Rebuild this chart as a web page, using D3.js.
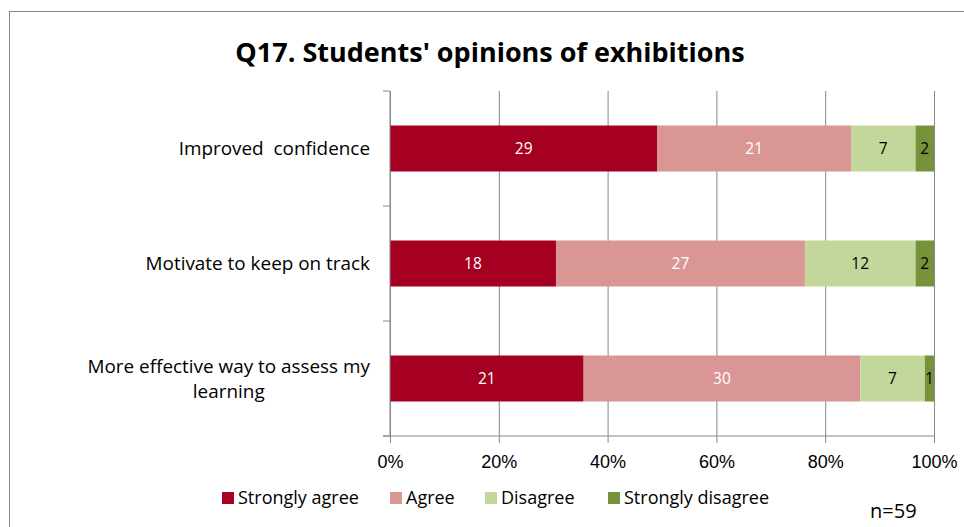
<!DOCTYPE html>
<html>
<head>
<meta charset="utf-8">
<script src="https://cdn.jsdelivr.net/npm/d3@7"></script>
<style>
  body { margin: 0; background: #fff; }
  svg { font-family: "Open Sans", sans-serif; }
</style>
</head>
<body>
<svg></svg>
<script>
// Data

let categories = ['Improved  confidence', 'Motivate to keep on track', 'More effective way to assess my learning']
let labelLines = [['Improved  confidence'], ['Motivate to keep on track'], ['More effective way to assess my', 'learning']]
let seriesNames = ['Strongly agree', 'Agree', 'Disagree', 'Strongly disagree']
let stronglyAgree = [29, 18, 21]
let agree = [21, 27, 30]
let disagree = [7, 12, 7]
let stronglyDisagree = [2, 2, 1]
let tickValues = [0, 0.2, 0.4, 0.6, 0.8, 1]
let colors = ['#a50021', '#da9694', '#c4d79b', '#76933c']
let labelColors = ['#fff', '#fff', '#000', '#000']

let width = 964
let height = 527

let plotLeft = 390
let plotRight = 934
let plotTop = 91
let plotBottom = 436

let svg = d3.select('svg')
svg.attr('width', width).attr('height', height)

// Build stacked rows

let rows = categories.map((c, i) => {
    let vals = [stronglyAgree[i], agree[i], disagree[i], stronglyDisagree[i]]
    let total = d3.sum(vals)
    let acc = 0
    return vals.map((v, j) => {
        let seg = { cat: c, idx: i, series: j, value: v, x0: acc / total, x1: (acc + v) / total }
        acc += v
        return seg
    })
})

// Scales

let xScale = d3.scaleLinear().domain([0, 1]).range([plotLeft, plotRight])
let yScale = d3.scaleBand().domain(categories).range([plotTop, plotBottom]).paddingInner(0.6).paddingOuter(0.3)

// Chart border

svg.append('rect')
    .attr('x', 9.5).attr('y', 11.5)
    .attr('width', 1000).attr('height', 600)
    .attr('fill', 'none').attr('stroke', '#868686').attr('stroke-width', 1)

// Title

svg.append('text')
    .attr('x', 490).attr('y', 62)
    .attr('text-anchor', 'middle')
    .style('font-size', '27px').style('font-weight', 'bold')
    .text("Q17. Students' opinions of exhibitions")

// Gridlines and x axis

let xAxis = d3.axisBottom(xScale)
    .tickValues(tickValues)
    .tickFormat(d3.format('.0%'))

let gx = svg.append('g')
    .attr('transform', 'translate(0,' + plotBottom + ')')
    .call(xAxis)
gx.select('.domain').remove()
gx.selectAll('.tick line').attr('stroke', '#888').attr('y1', -(plotBottom - plotTop)).attr('y2', 7)
gx.selectAll('.tick text')
    .attr('y', 19)
    .attr('dy', '0.71em')
    .style('font-size', '18px').attr('fill', '#000')

// Bars

svg.append('g').selectAll('g')
    .data(rows)
    .enter().append('g')
    .selectAll('rect')
    .data(d => d)
    .enter().append('rect')
    .attr('x', d => xScale(d.x0))
    .attr('width', d => xScale(d.x1) - xScale(d.x0))
    .attr('y', d => yScale(d.cat))
    .attr('height', yScale.bandwidth())
    .attr('fill', d => colors[d.series])

// Data labels

svg.append('g').selectAll('g')
    .data(rows)
    .enter().append('g')
    .selectAll('text')
    .data(d => d)
    .enter().append('text')
    .attr('x', d => (xScale(d.x0) + xScale(d.x1)) / 2)
    .attr('y', d => yScale(d.cat) + yScale.bandwidth() / 2)
    .attr('dy', '0.35em')
    .attr('text-anchor', 'middle')
    .style('font-size', '15.5px')
    .attr('fill', d => labelColors[d.series])
    .text(d => d.value)

// Left axis with ticks between categories

let gy = svg.append('g')
gy.append('line')
    .attr('x1', plotLeft).attr('x2', plotLeft)
    .attr('y1', plotTop).attr('y2', plotBottom)
    .attr('stroke', '#888')
let boundaries = d3.range(categories.length + 1).map(i => plotTop + i * yScale.step())
gy.selectAll('.bt')
    .data(boundaries)
    .enter().append('line')
    .attr('x1', plotLeft - 7).attr('x2', plotLeft)
    .attr('y1', d => d).attr('y2', d => d)
    .attr('stroke', '#888')
svg.append('line')
    .attr('x1', plotLeft - 7).attr('x2', plotRight)
    .attr('y1', plotBottom).attr('y2', plotBottom)
    .attr('stroke', '#888')

// Category labels

labelLines.forEach((lines, i) => {
    let cy = yScale(categories[i]) + yScale.bandwidth() / 2
    let lh = 25
    let t = svg.append('text')
        .attr('xml:space', 'preserve')
        .style('white-space', 'pre')
        .style('font-size', '18.9px')
        .attr('fill', '#000')
    let startY = cy - (lines.length - 1) * lh / 2
    let first = t.append('tspan')
        .attr('x', 370).attr('y', startY).attr('dy', '0.35em')
        .attr('text-anchor', 'end')
        .text(lines[0])
    let w = first.node().getComputedTextLength()
    lines.slice(1).forEach((ln, k) => {
        t.append('tspan')
            .attr('x', 370 - w / 2).attr('y', startY + (k + 1) * lh).attr('dy', '0.35em')
            .attr('text-anchor', 'middle')
            .text(ln)
    })
})

// Legend

let legendX = [222, 390, 485, 608]
let legend = svg.append('g')
legend.selectAll('rect')
    .data(seriesNames)
    .enter().append('rect')
    .attr('x', (d, i) => legendX[i]).attr('y', 492)
    .attr('width', 12).attr('height', 12)
    .attr('fill', (d, i) => colors[i])
legend.selectAll('text')
    .data(seriesNames)
    .enter().append('text')
    .attr('x', (d, i) => legendX[i] + 16).attr('y', 498)
    .attr('dy', '0.35em')
    .style('font-size', '18px')
    .text(d => d)

// Sample size note

svg.append('text')
    .attr('x', 870).attr('y', 518)
    .style('font-size', '20px')
    .text('n=59')
</script>
</body>
</html>
